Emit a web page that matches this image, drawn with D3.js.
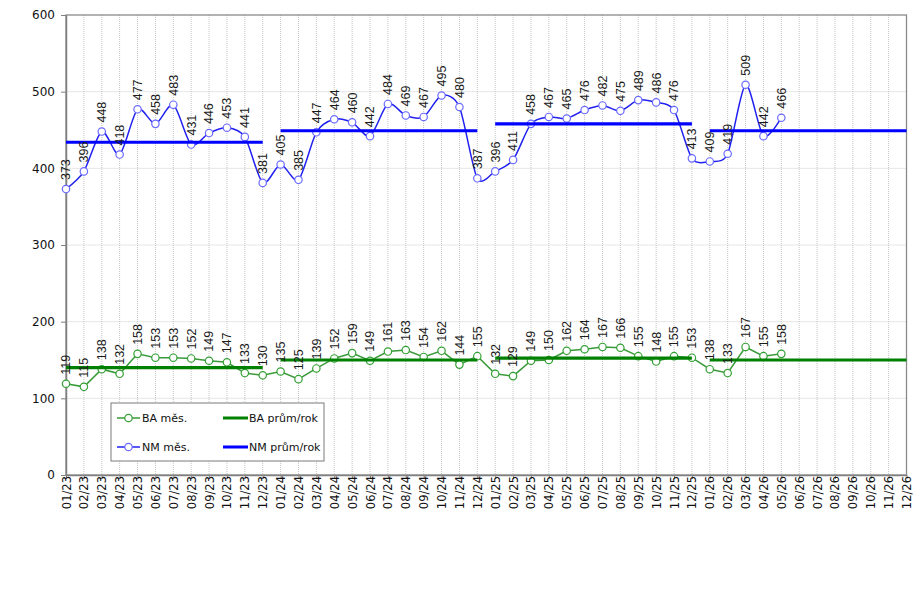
<!DOCTYPE html>
<html><head><meta charset="utf-8">
<script src="https://cdn.jsdelivr.net/npm/d3@7"></script>
<style>body{margin:0;background:#fff}svg{display:block}</style>
</head><body>
<svg id="c" width="917" height="592"></svg>
<script>
const months = ["01/23","02/23","03/23","04/23","05/23","06/23","07/23","08/23","09/23","10/23","11/23","12/23",
"01/24","02/24","03/24","04/24","05/24","06/24","07/24","08/24","09/24","10/24","11/24","12/24",
"01/25","02/25","03/25","04/25","05/25","06/25","07/25","08/25","09/25","10/25","11/25","12/25",
"01/26","02/26","03/26","04/26","05/26","06/26","07/26","08/26","09/26","10/26","11/26","12/26"];
const nmMonthly = [373,396,448,418,477,458,483,431,446,453,441,381,
405,385,447,464,460,442,484,469,467,495,480,387,
396,411,458,467,465,476,482,475,489,486,476,413,
409,419,509,442,466];
const baMonthly = [119,115,138,132,158,153,153,152,149,147,133,130,
135,125,139,152,159,149,161,163,154,162,144,155,
132,129,149,150,162,164,167,166,155,148,155,153,
138,133,167,155,158];
const years = ["23","24","25","26"];
const nmYearAvg = [434, 449, 458, 449];
const baYearAvg = [140, 150, 152.5, 150];
const yTicks = [0,100,200,300,400,500,600];

const svg = d3.select("#c");
const L=66, R=906.5, T=15, B=475;
const x = d3.scalePoint().domain(months).range([L,R]).padding(0);
const y = d3.scaleLinear().domain([0,600]).range([B,T]);

// gridlines
svg.append("g").selectAll("line").data(yTicks.slice(1,-1)).join("line")
  .attr("x1",L).attr("x2",R).attr("y1",d=>y(d)).attr("y2",d=>y(d))
  .attr("stroke","#e6e6e6").attr("stroke-width",1);
svg.append("g").selectAll("line").data(months.slice(1,-1)).join("line")
  .attr("x1",d=>x(d)).attr("x2",d=>x(d)).attr("y1",T).attr("y2",B)
  .attr("stroke","#c4c4c4").attr("stroke-width",1).attr("stroke-dasharray","1,1");

// frame
svg.append("rect").attr("x",L).attr("y",T).attr("width",R-L).attr("height",B-T)
  .attr("fill","none").attr("stroke","#8a8a8a").attr("stroke-width",1.3);

// axes
const yAxis = d3.axisLeft(y).tickValues(yTicks).tickSize(5).tickPadding(6).tickSizeOuter(0);
const ga = svg.append("g").attr("transform",`translate(${L},0)`).call(yAxis);
ga.select(".domain").attr("stroke","#808080").attr("stroke-width",1.5);
ga.selectAll(".tick line").attr("stroke","#808080");
ga.selectAll("text").attr("font-family","DejaVu Sans").attr("font-size","12px").attr("fill","#111");

const xAxis = d3.axisBottom(x).tickSize(4).tickSizeOuter(0);
const gx = svg.append("g").attr("transform",`translate(0,${B})`).call(xAxis);
gx.select(".domain").attr("stroke","#808080").attr("stroke-width",1.5);
gx.selectAll(".tick line").attr("stroke","#808080");
gx.selectAll("text").attr("font-family","DejaVu Sans").attr("font-size","11.5px").attr("fill","#111")
  .attr("text-anchor","end").attr("transform","translate(0,-3) rotate(-90)")
  .attr("x",-4).attr("y",0).attr("dy","0.35em");

// yearly averages
function avgLine(vals,color){
  svg.append("g").selectAll("line").data(years).join("line")
    .attr("x1",d=>x("01/"+d)).attr("x2",d=>x("12/"+d))
    .attr("y1",(d,i)=>y(vals[i])).attr("y2",(d,i)=>y(vals[i]))
    .attr("stroke",color).attr("stroke-width",3.2);
}

function series(vals,lineColor,markColor,curve){
  const pts = vals.map((v,i)=>[x(months[i]),y(v),v]);
  svg.append("path").datum(pts)
    .attr("d",d3.line().x(d=>d[0]).y(d=>d[1]).curve(curve))
    .attr("fill","none").attr("stroke",lineColor).attr("stroke-width",1.5);
  svg.append("g").selectAll("circle").data(pts).join("circle")
    .attr("cx",d=>d[0]).attr("cy",d=>d[1]).attr("r",3.7)
    .attr("fill","#fff").attr("stroke",markColor).attr("stroke-width",1.2);
  return pts;
}
function labels(pts){
  svg.append("g").selectAll("text").data(pts).join("text")
    .attr("transform",d=>`translate(${d[0]},${d[1]-9}) rotate(-90)`)
    .attr("dy","0.35em").attr("font-family","Liberation Sans, Arial").attr("font-size","12.5px")
    .attr("fill","#1a1a1a").text(d=>d[2]);
}

const baPts = series(baMonthly,"#3a9a3a","#33a033",d3.curveLinear);
avgLine(baYearAvg,"#008000");
const nmPts = series(nmMonthly,"#2020f0","#6a6aff",d3.curveCardinal.tension(0.2));
avgLine(nmYearAvg,"#0000ff");
labels(baPts);
labels(nmPts);

// legend
const lg = svg.append("g");
lg.append("rect").attr("x",111).attr("y",403).attr("width",213).attr("height",58)
  .attr("fill","#fff").attr("stroke","#7a7a7a").attr("stroke-width",1);
const items = [
  {t:"BA měs.", c:"#3a9a3a", m:"#33a033", x:117, y:418, mark:true},
  {t:"BA prům/rok", c:"#008000", x:223, y:418, mark:false},
  {t:"NM měs.", c:"#2020f0", m:"#6a6aff", x:117, y:447, mark:true},
  {t:"NM prům/rok", c:"#0000ff", x:223, y:447, mark:false}
];
items.forEach(it=>{
  lg.append("line").attr("x1",it.x).attr("x2",it.x+(it.mark?23:25)).attr("y1",it.y).attr("y2",it.y)
    .attr("stroke",it.c).attr("stroke-width",it.mark?1.5:3);
  if(it.mark) lg.append("circle").attr("cx",it.x+11.5).attr("cy",it.y).attr("r",3.7)
    .attr("fill","#fff").attr("stroke",it.m).attr("stroke-width",1.2);
  lg.append("text").attr("x",it.x+(it.mark?25:26)).attr("y",it.y).attr("dy","0.35em")
    .attr("font-family","DejaVu Sans").attr("font-size","11px").attr("fill","#111").text(it.t);
});
</script>
</body></html>
